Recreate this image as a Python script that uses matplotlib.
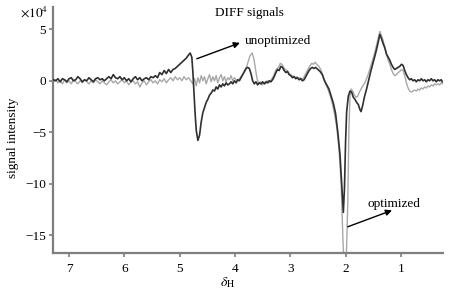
import numpy as np
import matplotlib
matplotlib.use('Agg')
import matplotlib.pyplot as plt

plt.rcParams['font.family'] = ['Liberation Serif', 'DejaVu Serif']
plt.rcParams['mathtext.fontset'] = 'stix'

# chemical shift (ppm) and intensity (x 1e4)
unopt_ppm = [7.28, 7.24, 7.20, 7.16, 7.12, 7.08, 7.04, 7.00, 6.96, 6.92, 6.88, 6.84, 6.80, 6.76, 6.72,
             6.68, 6.64, 6.60, 6.56, 6.52, 6.48, 6.44, 6.40, 6.36, 6.32, 6.28, 6.24, 6.20, 6.16, 6.12,
             6.08, 6.04, 6.00, 5.96, 5.92, 5.88, 5.84, 5.80, 5.76, 5.72, 5.68, 5.64, 5.60, 5.56, 5.52,
             5.48, 5.44, 5.40, 5.36, 5.32, 5.28, 5.24, 5.20, 5.16, 5.12, 5.08, 5.04, 5.00, 4.96, 4.92,
             4.88, 4.84, 4.81, 4.78, 4.76, 4.74, 4.72, 4.70, 4.67, 4.64, 4.61, 4.58, 4.55, 4.52, 4.49,
             4.46, 4.43, 4.40, 4.37, 4.34, 4.31, 4.28, 4.25, 4.22, 4.19, 4.16, 4.13, 4.10, 4.07, 4.04,
             4.01, 3.98, 3.95, 3.92, 3.89, 3.86, 3.83, 3.80, 3.77, 3.74, 3.71, 3.68, 3.65, 3.62, 3.59,
             3.56, 3.53, 3.50, 3.47, 3.44, 3.41, 3.38, 3.35, 3.32, 3.29, 3.26, 3.23, 3.20, 3.17, 3.14,
             3.11, 3.08, 3.05, 3.02, 2.99, 2.96, 2.93, 2.90, 2.87, 2.84, 2.81, 2.78, 2.75, 2.72, 2.69,
             2.66, 2.63, 2.60, 2.57, 2.54, 2.50, 2.46, 2.42, 2.38, 2.34, 2.30, 2.26, 2.22, 2.18, 2.14,
             2.10, 2.07, 2.04, 2.02, 2.00, 1.98, 1.95, 1.92, 1.89, 1.86, 1.83, 1.80, 1.77, 1.74, 1.72,
             1.69, 1.66, 1.62, 1.58, 1.54, 1.50, 1.46, 1.42, 1.38, 1.35, 1.32, 1.29, 1.26, 1.23, 1.20,
             1.17, 1.14, 1.11, 1.08, 1.05, 1.02, 0.99, 0.96, 0.93, 0.90, 0.87, 0.84, 0.81, 0.78, 0.75,
             0.72, 0.69, 0.66, 0.63, 0.60, 0.57, 0.54, 0.51, 0.48, 0.45, 0.42, 0.39, 0.36, 0.33, 0.30,
             0.27, 0.25]
unopt_val = [0.1, 0.0, 0.2, -0.1, 0.2, 0.1, -0.1, 0.2, 0.3, 0.0, 0.1, 0.4, 0.2, -0.1, 0.1,
             0.0, 0.3, 0.1, -0.1, 0.2, 0.3, 0.1, 0.2, 0.0, 0.2, 0.4, 0.2, 0.6, 0.3, 0.2,
             0.4, 0.1, 0.3, 0.0, 0.2, -0.1, 0.2, 0.4, 0.1, 0.3, 0.0, 0.2, 0.3, 0.1, 0.4,
             0.3, 0.5, 0.3, 0.8, 0.6, 1.0, 0.7, 1.1, 0.8, 1.1, 1.2, 1.4, 1.6, 1.8, 2.0,
             2.2, 2.5, 2.7, 2.3, 0.8, -1.2, -3.2, -4.8, -5.8, -5.3, -4.0, -3.1, -2.6, -2.1, -1.8,
             -1.4, -1.2, -0.9, -1.0, -0.6, -0.8, -0.4, -0.6, -0.3, -0.5, -0.2, -0.4, -0.3, -0.1, -0.3,
             0.0, -0.2, 0.1, 0.0, 0.3, 0.6, 0.9, 1.2, 1.3, 1.2, 0.7, 0.0, -0.3, -0.1, -0.4,
             -0.2, -0.3, -0.1, -0.3, -0.1, -0.2, 0.0, -0.1, 0.1, 0.4, 0.8, 1.1, 1.0, 1.4, 1.3,
             1.0, 0.8, 0.9, 0.6, 0.5, 0.3, 0.4, 0.2, 0.3, 0.1, 0.2, 0.0, 0.1, 0.4, 0.7,
             1.0, 1.2, 1.3, 1.2, 1.3, 1.1, 0.9, 0.6, 0.0, -0.4, -0.8, -1.5, -2.2, -3.2, -5.0,
             -7.2, -10.0, -12.8, -10.5, -6.0, -3.0, -1.5, -1.0, -1.1, -1.6, -1.8, -2.1, -2.3, -2.8, -3.0,
             -2.4, -1.6, -0.8, 0.1, 1.0, 1.8, 2.6, 3.5, 4.5, 4.1, 3.6, 3.2, 2.6, 2.3, 2.0,
             1.6, 1.3, 1.1, 1.2, 1.3, 1.4, 1.6, 1.5, 1.0, 0.6, 0.3, 0.1, 0.2, 0.0, 0.1,
             -0.1, 0.1, 0.0, 0.2, 0.0, 0.1, -0.1, 0.1, 0.0, 0.2, 0.0, 0.1, -0.1, 0.1, 0.0,
             0.1, -0.1]

opt_ppm = [7.28, 7.24, 7.20, 7.16, 7.12, 7.08, 7.04, 7.00, 6.96, 6.92, 6.88, 6.84, 6.80, 6.76, 6.72,
           6.68, 6.64, 6.60, 6.56, 6.52, 6.48, 6.44, 6.40, 6.36, 6.32, 6.28, 6.24, 6.20, 6.16, 6.12,
           6.08, 6.04, 6.00, 5.96, 5.92, 5.88, 5.84, 5.80, 5.76, 5.72, 5.68, 5.64, 5.60, 5.56, 5.52,
           5.48, 5.44, 5.40, 5.36, 5.32, 5.28, 5.24, 5.20, 5.16, 5.12, 5.08, 5.04, 5.00, 4.96, 4.92,
           4.88, 4.84, 4.80, 4.76, 4.73, 4.70, 4.67, 4.64, 4.61, 4.58, 4.55, 4.52, 4.49, 4.46, 4.43,
           4.40, 4.37, 4.34, 4.31, 4.28, 4.25, 4.22, 4.19, 4.16, 4.13, 4.10, 4.07, 4.04, 4.01, 3.98,
           3.95, 3.92, 3.89, 3.85, 3.81, 3.77, 3.73, 3.69, 3.66, 3.63, 3.60, 3.57, 3.54, 3.51, 3.48,
           3.45, 3.42, 3.39, 3.36, 3.33, 3.30, 3.27, 3.24, 3.21, 3.18, 3.15, 3.12, 3.09, 3.06, 3.03,
           3.00, 2.97, 2.94, 2.91, 2.88, 2.85, 2.82, 2.79, 2.76, 2.73, 2.70, 2.67, 2.64, 2.61, 2.58,
           2.55, 2.52, 2.48, 2.44, 2.40, 2.36, 2.32, 2.28, 2.24, 2.20, 2.16, 2.12, 2.08, 2.05, 2.02,
           1.99, 1.96, 1.94, 1.92, 1.90, 1.87, 1.84, 1.81, 1.78, 1.75, 1.72, 1.69, 1.66, 1.62, 1.58,
           1.54, 1.50, 1.46, 1.42, 1.38, 1.35, 1.32, 1.29, 1.26, 1.23, 1.20, 1.17, 1.14, 1.11, 1.08,
           1.05, 1.02, 0.99, 0.96, 0.93, 0.90, 0.87, 0.84, 0.81, 0.78, 0.75, 0.72, 0.69, 0.66, 0.63,
           0.60, 0.57, 0.54, 0.51, 0.48, 0.45, 0.42, 0.39, 0.36, 0.33, 0.30, 0.27, 0.25]
opt_val = [-0.1, 0.1, -0.2, 0.0, -0.3, 0.1, -0.2, 0.0, -0.3, 0.1, -0.1, -0.3, 0.0, -0.2, 0.1,
           -0.1, -0.3, 0.0, -0.2, 0.1, -0.1, -0.3, 0.0, -0.2, -0.4, -0.1, 0.1, -0.2, 0.0, -0.3,
           -0.1, 0.1, -0.2, 0.0, -0.4, -0.1, 0.0, -0.3, -0.1, -0.6, -0.2, 0.0, -0.4, -0.1, 0.1,
           -0.2, 0.0, -0.3, 0.1, -0.1, 0.2, -0.2, 0.1, 0.3, 0.0, 0.4, 0.1, 0.3, 0.0, 0.4,
           0.1, 0.3, 0.0, -0.3, 0.2, -0.5, 0.3, -0.2, 0.5, 0.0, 0.4, -0.3, 0.2, 0.6, -0.1,
           0.4, 0.0, 0.5, -0.2, 0.3, 0.6, 0.0, 0.4, -0.1, 0.3, 0.1, 0.5, 0.0, 0.3, 0.1,
           0.0, 0.2, 0.4, 0.7, 1.0, 1.7, 2.4, 2.7, 2.2, 1.2, 0.2, -0.3, -0.1, -0.4, -0.2,
           -0.3, 0.0, -0.2, 0.0, 0.2, 0.5, 0.9, 1.2, 1.3, 1.7, 1.6, 1.3, 1.1, 1.0, 0.8,
           0.6, 0.5, 0.4, 0.3, 0.4, 0.2, 0.3, 0.1, 0.3, 0.6, 0.9, 1.2, 1.5, 1.7, 1.6,
           1.8, 1.6, 1.4, 1.0, 0.3, -0.3, -0.8, -1.4, -2.2, -3.2, -4.5, -6.5, -10.0, -15.0, -19.0,
           -18.0, -12.0, -5.0, -1.5, -0.8, -1.0, -1.4, -1.6, -1.5, -1.1, -0.8, -0.5, -0.3, 0.2, 0.8,
           1.5, 2.2, 3.0, 3.9, 4.8, 4.4, 3.9, 3.3, 2.6, 2.0, 1.6, 1.1, 0.7, 0.5, 0.6,
           0.8, 0.9, 1.1, 1.0, 0.5, -0.2, -0.7, -1.0, -1.1, -1.0, -0.9, -1.0, -0.8, -0.9, -0.7,
           -0.8, -0.6, -0.7, -0.5, -0.6, -0.4, -0.5, -0.3, -0.4, -0.3, -0.4, -0.2, -0.3]

x_ticks = [7, 6, 5, 4, 3, 2, 1]
y_ticks = [-15, -10, -5, 0, 5]

fig = plt.figure(figsize=(4.51, 2.90), dpi=100)
ax = fig.add_axes([0.1175, 0.1276, 0.8645, 0.8484])

ax.plot(opt_ppm, opt_val, c='#a8a8a8', lw=1.0, zorder=2)
ax.plot(unopt_ppm, unopt_val, c='#303030', lw=1.2, zorder=3)

ax.set_xlim(7.29, 0.24)
ax.set_ylim(-16.75, 7.18)
ax.set_xticks(x_ticks)
ax.set_yticks(y_ticks)
ax.set_yticklabels(['\u221215', '\u221210', '\u22125', '0', '5'])

for s in ['top', 'right']:
	ax.spines[s].set_visible(False)
for s in ['left', 'bottom']:
	ax.spines[s].set_color('#7f7f7f')
	ax.spines[s].set_linewidth(1.6)
ax.tick_params(colors='#7f7f7f', labelcolor='black', length=3, width=1.2, labelsize=9.5, pad=2)
ax.tick_params(axis='x', pad=4)

ax.text(0.505, 0.976, 'DIFF signals', transform=ax.transAxes, ha='center', va='center', fontsize=9.5)
ax.text(-0.013, 0.977, r'$\times10^4$', transform=ax.transAxes, ha='right', va='center', fontsize=9.5)

ax.set_ylabel('signal intensity', fontsize=9.5)
ax.yaxis.set_label_coords(-0.088, 0.47)
ax.set_xlabel(r'$\delta_\mathrm{H}$', fontsize=10)
ax.xaxis.set_label_coords(0.447, -0.09)

# arrows point away from the traces, toward the labels
ax.annotate('', xy=(3.91, 3.69), xytext=(4.69, 2.14),
	arrowprops=dict(arrowstyle='-|>', color='black', lw=1.0, mutation_scale=9, shrinkA=0, shrinkB=0))
ax.text(3.82, 3.88, 'unoptimized', ha='left', va='center', fontsize=9.5)

ax.annotate('', xy=(1.16, -12.6), xytext=(1.96, -14.2),
	arrowprops=dict(arrowstyle='-|>', color='black', lw=1.0, mutation_scale=9, shrinkA=0, shrinkB=0))
ax.text(1.60, -12.0, 'optimized', ha='left', va='center', fontsize=9.5)

fig.savefig('out.png', dpi=100)
